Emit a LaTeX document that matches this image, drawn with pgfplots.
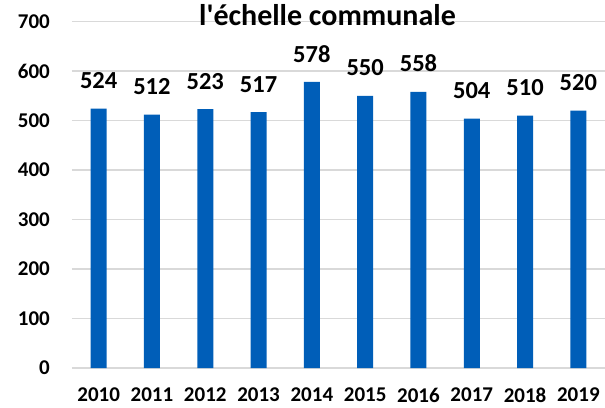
\documentclass[border=0pt]{standalone}
\usepackage{fontspec}
\setmainfont{Carlito}
\usepackage{pgfplots}
\pgfplotsset{compat=1.18}
\definecolor{barblue}{HTML}{005EB8}
\definecolor{gridgray}{HTML}{D9D9D9}
\begin{document}
\begin{tikzpicture}
\path[use as bounding box] (-72pt,-39pt) rectangle (533pt,368pt);
\begin{axis}[
  at={(0,0)}, anchor=south west,
  scale only axis,
  width=533pt, height=346.5pt,
  ybar, bar width=16pt,
  xmin=-0.5, xmax=9.5,
  ymin=0, ymax=700,
  ytick={0,100,...,700},
  xtick=data,
  xticklabels={2010,2011,2012,2013,2014,2015,2016,2017,2018,2019},
  axis x line*=bottom,
  axis y line*=left,
  x axis line style={draw=gridgray, line width=1.5pt, -},
  y axis line style={draw=none},
  major tick length=0pt,
  tick style={draw=none},
  ymajorgrids,
  major grid style={draw=gridgray, line width=1.3pt},
  /pgf/number format/assume math mode=true,
  yticklabel style={font=\fontsize{21}{24}\selectfont\bfseries, anchor=east, inner sep=0pt, xshift=-22pt},
  xticklabel style={font=\fontsize{21}{24}\selectfont\bfseries, anchor=north, inner sep=0pt, yshift=-20pt},
  nodes near coords,
  every node near coord/.append style={font=\fontsize{24.5}{28}\selectfont\bfseries, anchor=south, inner sep=0pt, yshift=19.5pt, text=black},
  every axis title/.style={at={(0.5,1)}, anchor=base, yshift=-3.5pt, xshift=-11pt, font=\fontsize{30}{34}\selectfont\bfseries, inner sep=0pt},
  title={l\textquotesingle échelle communale},
]
\addplot[fill=barblue, draw=none] coordinates {
  (0,524) (1,512) (2,523) (3,517) (4,578) (5,550) (6,558) (7,504) (8,510) (9,520)
};
\end{axis}
\end{tikzpicture}
\end{document}
